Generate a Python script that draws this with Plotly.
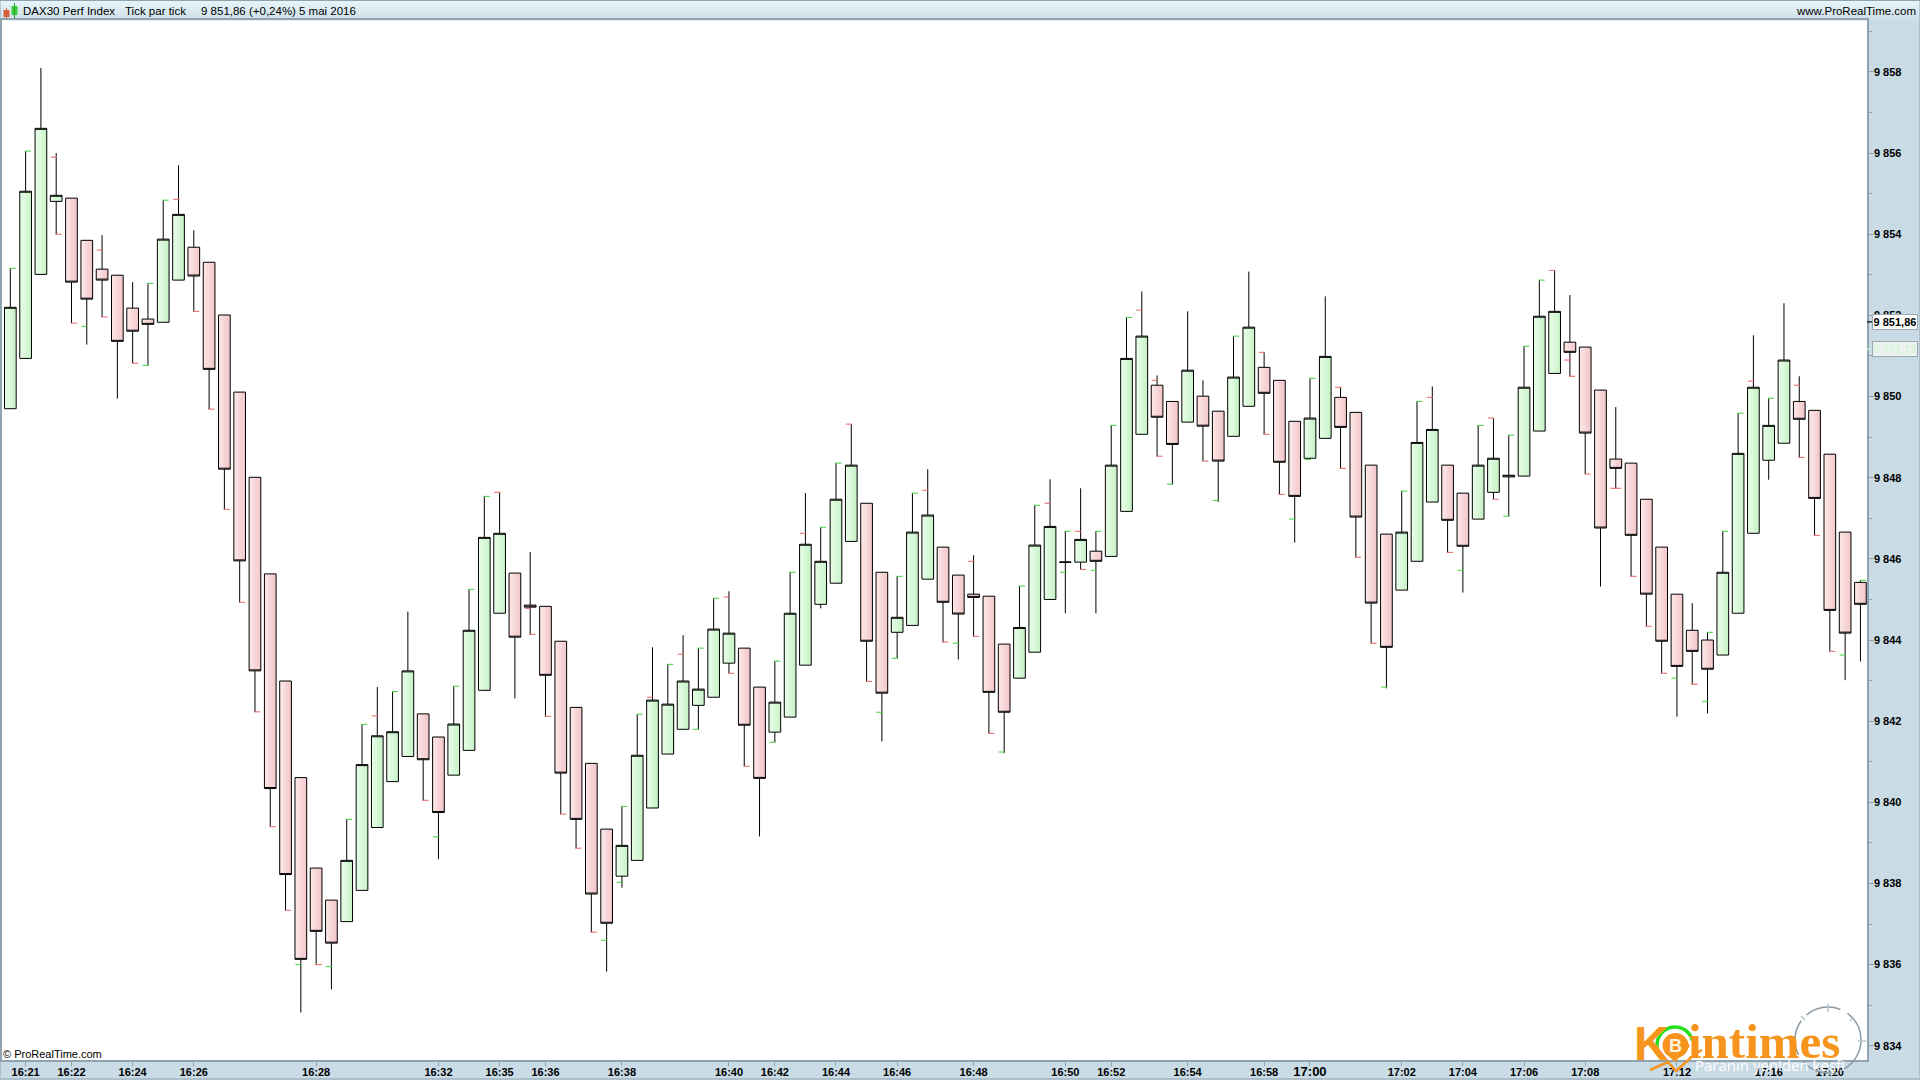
import math
import plotly.graph_objects as go

# ---------------- data ----------------
opens = [9849.70,9850.94,9853.01,9854.81,9854.89,9853.85,9853.14,9852.99,9852.18,9851.91,
         9851.83,9852.87,9853.68,9853.31,9852.01,9850.11,9848.01,9845.63,9842.99,9840.61,
         9838.38,9837.59,9837.06,9837.83,9839.38,9840.51,9841.13,9842.18,9841.61,9840.67,
         9841.28,9842.76,9844.66,9845.65,9844.86,9844.83,9843.97,9842.34,9840.96,9839.34,
         9838.18,9838.57,9839.86,9841.19,9841.80,9842.39,9842.59,9843.43,9843.80,9842.84,
         9841.73,9842.10,9843.38,9844.88,9845.40,9846.43,9847.37,9845.67,9844.19,9844.36,
         9845.50,9846.29,9845.60,9845.13,9845.08,9843.90,9843.06,9843.70,9845.00,9845.92,
         9845.92,9846.19,9846.06,9847.17,9849.07,9850.28,9849.88,9849.37,9850.01,9849.64,
         9849.02,9849.76,9850.72,9850.40,9849.39,9848.48,9848.97,9849.98,9849.61,9848.31,
         9846.61,9845.23,9845.94,9847.40,9848.31,9847.62,9846.98,9847.64,9848.02,9848.04,
         9849.15,9850.57,9851.34,9851.22,9850.16,9848.46,9848.36,9847.47,9846.29,9845.13,
         9844.24,9844.00,9843.63,9844.66,9846.63,9848.43,9848.85,9849.88,9849.66,9848.58,
         9846.66,9845.42]
closes = [9852.20,9855.06,9856.61,9854.96,9852.82,9852.40,9852.87,9851.36,9851.61,9851.78,
          9853.88,9854.49,9852.97,9850.67,9848.21,9845.95,9843.24,9840.34,9838.22,9836.13,
          9836.82,9836.53,9838.57,9840.93,9841.64,9841.74,9843.24,9841.05,9839.75,9841.93,
          9844.24,9846.53,9846.63,9844.07,9844.81,9843.13,9840.72,9839.58,9837.74,9837.02,
          9838.94,9841.16,9842.52,9842.42,9842.99,9842.79,9844.27,9844.17,9841.90,9840.59,
          9842.47,9844.66,9846.36,9845.94,9847.47,9848.31,9843.97,9842.69,9844.56,9846.66,
          9847.08,9844.93,9844.64,9845.05,9842.71,9842.22,9844.31,9846.34,9846.80,9845.92,
          9846.48,9845.94,9848.31,9850.94,9851.49,9849.49,9848.82,9850.65,9849.27,9848.41,
          9850.48,9851.71,9850.08,9848.38,9847.54,9849.47,9850.99,9849.24,9847.03,9844.91,
          9843.82,9846.66,9848.87,9849.19,9846.95,9846.31,9848.31,9848.48,9848.06,9850.23,
          9851.98,9852.10,9851.09,9849.10,9846.76,9848.23,9846.58,9845.13,9843.97,9843.35,
          9843.72,9843.28,9845.67,9848.60,9850.23,9849.29,9850.90,9849.44,9847.49,9844.73,
          9844.17,9844.88]
highs = [9853.16,9856.05,9858.10,9856.00,9854.89,9853.85,9853.98,9852.99,9852.82,9852.79,
         9854.84,9855.70,9854.10,9853.31,9852.01,9850.11,9848.01,9845.63,9842.99,9840.61,
         9838.38,9837.59,9839.58,9841.92,9842.84,9842.73,9844.70,9842.18,9841.61,9842.86,
         9845.25,9847.54,9847.64,9845.65,9846.17,9844.83,9843.97,9842.34,9840.96,9839.34,
         9839.90,9842.17,9843.82,9843.40,9844.12,9843.80,9845.03,9845.20,9843.80,9842.84,
         9843.48,9845.67,9847.62,9846.78,9848.36,9849.32,9847.37,9845.67,9845.57,9847.62,
         9848.21,9846.29,9845.60,9846.09,9845.08,9843.90,9845.33,9847.32,9847.96,9846.68,
         9847.74,9846.68,9849.29,9851.95,9852.59,9850.52,9849.88,9852.10,9850.40,9849.64,
         9851.49,9853.08,9851.09,9850.40,9849.39,9850.45,9852.47,9850.23,9849.61,9848.31,
         9846.61,9847.67,9849.88,9850.25,9848.31,9847.62,9849.29,9849.47,9849.05,9851.24,
         9852.87,9853.11,9852.50,9851.22,9850.16,9849.74,9848.36,9847.47,9846.29,9845.13,
         9844.91,9844.19,9846.68,9849.59,9851.51,9849.96,9852.30,9850.50,9849.66,9848.58,
         9846.66,9845.47]
lows = [9849.70,9850.94,9853.01,9854.00,9851.81,9851.28,9851.96,9849.95,9850.82,9850.77,
        9851.83,9852.87,9852.10,9849.69,9847.22,9844.93,9842.23,9839.40,9837.34,9834.82,
        9836.00,9835.39,9837.06,9837.83,9839.38,9840.51,9841.13,9840.05,9838.60,9840.67,
        9841.28,9842.76,9844.66,9842.56,9844.14,9842.12,9839.71,9838.87,9836.80,9835.83,
        9837.90,9838.57,9839.86,9841.19,9841.80,9841.80,9842.59,9843.18,9840.89,9839.16,
        9841.48,9842.10,9843.38,9844.78,9845.40,9846.43,9842.98,9841.50,9843.55,9844.36,
        9845.50,9843.95,9843.52,9844.09,9841.70,9841.21,9843.06,9843.70,9845.00,9844.66,
        9845.74,9844.66,9846.06,9847.17,9849.07,9848.53,9847.84,9849.37,9848.41,9847.40,
        9849.02,9849.76,9849.07,9847.59,9846.40,9848.45,9848.97,9848.23,9846.04,9843.92,
        9842.81,9845.23,9845.94,9847.40,9846.16,9845.17,9846.98,9847.47,9847.05,9848.04,
        9849.15,9850.57,9850.50,9848.09,9845.32,9847.74,9845.57,9844.34,9843.18,9842.11,
        9842.91,9842.19,9843.63,9844.66,9846.63,9847.95,9848.85,9848.50,9846.58,9843.72,
        9843.01,9843.47]

green_right_bars = [0,1,9,10,22,23,25,29,30,31,40,41,43,45,46,50,51,53,54,58,59,66,67,69,71,72,73,80,85,91,92,96,98,99,100,111,112,113,115,121]
green_right_vals = [9853.16,9856.05,9852.79,9854.84,9839.58,9841.92,9842.73,9842.86,9845.25,9847.54,9839.90,9842.17,9843.40,9843.80,9845.03,9843.48,9845.67,9846.78,9848.36,9845.57,9847.62,9845.33,9847.32,9846.68,9846.68,9849.29,9851.95,9851.49,9850.45,9847.67,9849.88,9849.29,9849.05,9851.24,9852.87,9844.19,9846.68,9849.59,9849.96,9845.47]
green_left_bars = [5,9,19,21,28,39,40,45,50,57,58,62,65,69,71,76,79,84,85,90,95,98,109,111,120]
green_left_vals = [9851.73,9850.77,9836.00,9835.95,9839.15,9836.60,9838.03,9841.80,9841.48,9842.22,9843.55,9843.92,9841.24,9845.67,9845.72,9847.84,9847.44,9846.98,9848.45,9842.84,9845.72,9847.05,9843.06,9842.49,9843.63]
red_right_bars = [3,4,6,8,12,13,14,15,16,17,18,20,27,34,35,36,37,38,47,48,56,61,63,64,70,75,78,82,83,87,88,89,94,97,102,103,105,106,107,108,110,117,118,119]
red_right_vals = [9854.00,9851.81,9851.96,9850.82,9852.10,9849.69,9847.22,9844.93,9842.23,9839.40,9837.34,9836.00,9840.05,9844.14,9842.12,9839.71,9838.87,9836.80,9843.18,9840.89,9842.98,9843.95,9844.09,9841.70,9845.74,9848.53,9848.41,9849.07,9847.59,9848.23,9846.04,9843.92,9846.16,9847.47,9850.50,9848.09,9847.74,9845.57,9844.34,9843.18,9842.91,9848.50,9846.58,9843.72]
red_left_bars = [3,6,11,24,32,34,42,44,47,52,55,60,63,68,70,74,75,82,87,93,97,101,102,105,114,117]
red_left_vals = [9855.90,9853.61,9854.86,9842.13,9847.64,9844.78,9842.59,9843.65,9845.06,9846.63,9849.32,9847.69,9845.94,9847.37,9846.68,9852.13,9850.40,9851.09,9850.23,9849.98,9849.47,9853.11,9850.90,9847.74,9850.38,9850.28]

time_ticks = [1,4,8,12,20,28,32,35,40,47,50,54,58,63,69,72,77,82,85,91,95,99,103,109,115,119]
time_labels = ["16:21","16:22","16:24","16:26","16:28","16:32","16:35","16:36","16:38","16:40",
               "16:42","16:44","16:46","16:48","16:50","16:52","16:54","16:58",
               "<span style='font-size:13px'>17:00</span>","17:02","17:04","17:06","17:08","17:12","17:16","17:20"]
price_ticks = [9834,9836,9838,9840,9842,9844,9846,9848,9850,9852,9854,9856,9858]
price_labels = ["9 834","9 836","9 838","9 840","9 842","9 844","9 846","9 848","9 850","9 852","9 854","9 856","9 858"]
last_price = 9851.84
second_price = 9851.17

W, H = 1920, 1080
def px(x): return x / W
def py(y): return 1 - y / H

bars = list(range(len(opens)))
is_up = [c >= o for o, c in zip(opens, closes)]
bottoms = [min(o, c) for o, c in zip(opens, closes)]
sizes = [abs(c - o) for o, c in zip(opens, closes)]

GREEN_GRAD = ["#e6fde6", "#e0fbe0", "#dbf9db", "#d5f7d5", "#cff5cf", "#c9f2c9"]
RED_GRAD = ["#fde6e6", "#fae0e1", "#f8dadc", "#f6d4d6", "#f4ced0", "#f2c8ca"]
BODY_W = 0.765
fig = go.Figure()
n = len(GREEN_GRAD)
for k in range(n):
    fig.add_trace(go.Bar(
        x=bars, y=sizes, base=bottoms,
        width=BODY_W / n + 0.01, offset=-BODY_W / 2 + k * BODY_W / n,
        marker=dict(color=[GREEN_GRAD[k] if u else RED_GRAD[k] for u in is_up], line=dict(width=0)),
        hoverinfo="skip", showlegend=False))

fig.add_trace(go.Candlestick(
    x=bars, open=opens, high=highs, low=lows, close=closes,
    whiskerwidth=0,
    increasing=dict(line=dict(color="#000000", width=1), fillcolor="rgba(0,0,0,0)"),
    decreasing=dict(line=dict(color="#000000", width=1), fillcolor="rgba(0,0,0,0)"),
    hoverinfo="skip", showlegend=False))

TICK_OFFSET = 0.15
for xs, ys, side, col in [
    (green_right_bars, green_right_vals, 1, "#3fd03f"),
    (green_left_bars, green_left_vals, -1, "#3fd03f"),
    (red_right_bars, red_right_vals, 1, "#e86464"),
    (red_left_bars, red_left_vals, -1, "#e86464"),
]:
    fig.add_trace(go.Scatter(
        x=[b + side * TICK_OFFSET for b in xs], y=ys, mode="markers",
        marker=dict(symbol="line-ew", size=4.5, line=dict(color=col, width=1)),
        hoverinfo="skip", showlegend=False))

AXIS = "#8fa3b1"
TICKFONT = dict(family="Liberation Sans", size=11, color="#000000", weight="bold")
shapes = []
# header band
hdr = ["#e6f4f9", "#e2f1f6", "#dfeef4", "#dbebf1", "#d7e8ee", "#d3e5eb", "#cfe1e8"]
for i, c in enumerate(hdr):
    shapes.append(dict(type="rect", xref="paper", yref="paper", x0=0, x1=1,
                       y0=py((i + 1) * 20 / len(hdr) + 0.5), y1=py(i * 20 / len(hdr)),
                       fillcolor=c, line=dict(width=0), layer="below"))
# outer frame
shapes.append(dict(type="rect", xref="paper", yref="paper", x0=0, x1=1, y0=py(1079), y1=py(0.5),
                   line=dict(color=AXIS, width=1), fillcolor="rgba(0,0,0,0)"))
# header icon
shapes += [
    dict(type="rect", xref="paper", yref="paper", x0=px(3.5), x1=px(9.5), y0=py(17), y1=py(10),
         fillcolor="#d9603b", line=dict(width=0)),
    dict(type="line", xref="paper", yref="paper", x0=px(6.5), x1=px(6.5), y0=py(19), y1=py(8),
         line=dict(color="#d9603b", width=1)),
    dict(type="rect", xref="paper", yref="paper", x0=px(11.5), x1=px(17.5), y0=py(15), y1=py(6),
         fillcolor="#3bd03b", line=dict(width=0)),
    dict(type="line", xref="paper", yref="paper", x0=px(14.5), x1=px(14.5), y0=py(18), y1=py(3),
         line=dict(color="#2a9a2a", width=1)),
]
# last-price ticks
shapes.append(dict(type="line", xref="paper", yref="y", x0=px(1867), x1=px(1873), y0=last_price, y1=last_price,
                   line=dict(color="#000000", width=1.2)))
shapes.append(dict(type="line", xref="paper", yref="y", x0=px(1867), x1=px(1873), y0=second_price, y1=second_price,
                   line=dict(color="#d5f5d5", width=1.2)))

# watermark: clock
cx, cy, r = 1828, 1040, 33
shapes.append(dict(type="circle", xref="paper", yref="paper", x0=px(cx - r), x1=px(cx + r), y0=py(cy + r), y1=py(cy - r),
                   line=dict(color="#8c9ca8", width=1.5, dash="36px 8px")))
for a, b, c, d in [(1828, 1004, 1828, 1012), (1801, 1016, 1805, 1020), (1854, 1017, 1850, 1021), (1858, 1041, 1866, 1041)]:
    shapes.append(dict(type="line", xref="paper", yref="paper", x0=px(a), y0=py(b), x1=px(c), y1=py(d),
                       line=dict(color="#b8c4cc", width=1.5)))

# watermark: coin, ring, arrow
def arc_path(xc, yc, rad, a0, a1, steps=30):
    pts = []
    for i in range(steps + 1):
        a = math.radians(a0 + (a1 - a0) * i / steps)
        pts.append(f"{px(xc + rad * math.cos(a)):.6f} {py(yc + rad * math.sin(a)):.6f}")
    return "M " + " L ".join(pts)

shapes.append(dict(type="path", xref="paper", yref="paper", path=arc_path(1675, 1045, 18, 140, 345),
                   line=dict(color="#22e01e", width=3.5)))
shapes.append(dict(type="circle", xref="paper", yref="paper", x0=px(1662.5), x1=px(1688.5), y0=py(1058), y1=py(1033),
                   fillcolor="#f7941d", line=dict(width=0)))
shapes.append(dict(type="path", xref="paper", yref="paper",
                   path=f"M {px(1665)} {py(1053)} L {px(1675)} {py(1062)} L {px(1690)} {py(1046)} L {px(1685)} {py(1040)} Z",
                   fillcolor="#f7941d", line=dict(width=0)))
shapes.append(dict(type="path", xref="paper", yref="paper",
                   path=f"M {px(1650)} {py(1070)} L {px(1668)} {py(1062)} L {px(1676)} {py(1071)} L {px(1695)} {py(1054)} L {px(1702)} {py(1050)}",
                   line=dict(color="#f7941d", width=2.5)))

def note(text, x, y, anchor="left", size=11.5, color="#000000", bold=False, family="Liberation Sans", **kw):
    f = dict(family=family, size=size, color=color)
    if bold:
        f["weight"] = "bold"
    return dict(text=text, xref="paper", yref="paper", x=px(x), y=py(y), xanchor=anchor, yanchor="middle",
                showarrow=False, font=f, **kw)

annotations = [
    note("DAX30 Perf Index", 21, 11),
    note("Tick par tick", 123, 11),
    note("9 851,86 (+0,24%)", 199, 11),
    note("5 mai 2016", 297, 11),
    note("www.ProRealTime.com", 1918, 11, anchor="right"),
    note("© ProRealTime.com", 0.5, 1054, size=11),
    note("K", 1632, 1043, size=48, color="#f7941d", bold=True, family="Liberation Sans"),
    note("intimes", 1686, 1041, size=49, color="#f7941d", bold=True, family="Liberation Sans Narrow"),
    note("B", 1675, 1046, anchor="center", size=18, color="#fff3e0", bold=True),
    note("Paranın yeniden keşfi", 1693, 1065, size=15, color="#ffffff", family="Open Sans"),
    dict(text="<b>9 851,86</b>", xref="paper", yref="y", x=px(1894.5), y=last_price, xanchor="center", yanchor="middle",
         showarrow=False, font=dict(family="Liberation Sans", size=11, color="#000000"),
         bgcolor="#ffffff", bordercolor="#9aa8b2", borderwidth=1, borderpad=1, width=42, height=12),
    dict(text="<b>9 851,19</b>", xref="paper", yref="y", x=px(1894.5), y=second_price, xanchor="center", yanchor="middle",
         showarrow=False, font=dict(family="Liberation Sans", size=11, color="#d5f5d5"),
         bgcolor="#eef2f2", bordercolor="#9aa8b2", borderwidth=1, borderpad=1, width=42, height=12),
]

fig.update_layout(
    width=W, height=H, margin=dict(l=0, r=0, t=0, b=0, pad=0),
    paper_bgcolor="#c9dbe5", plot_bgcolor="#ffffff",
    barmode="overlay", bargap=0, boxgap=0.235, boxgroupgap=0, showlegend=False,
    shapes=shapes, annotations=annotations,
    xaxis=dict(domain=[px(2), px(1867)], range=[-0.545, 121.43], type="linear",
               tickmode="array", tickvals=time_ticks, ticktext=time_labels,
               showgrid=False, zeroline=False, showline=True, linecolor=AXIS, linewidth=1.5, mirror=True,
               ticks="outside", ticklen=4, tickwidth=1, tickcolor=AXIS, tickfont=TICKFONT,
               ticklabelstandoff=-3,
               rangeslider=dict(visible=False), tickangle=0, automargin=False),
    yaxis=dict(domain=[py(1060), py(20)], range=[9833.65, 9859.28], side="right",
               tickmode="array", tickvals=price_ticks, ticktext=price_labels,
               showgrid=False, zeroline=False, showline=True, linecolor=AXIS, linewidth=1.5, mirror=True,
               ticks="outside", ticklen=5, tickwidth=1, tickcolor=AXIS, tickfont=TICKFONT,
               ticklabelstandoff=-2,
               minor=dict(dtick=1, ticks="outside", ticklen=3, tickwidth=1, tickcolor=AXIS, showgrid=False),
               automargin=False),
)

fig.write_html("out.html", config={"displayModeBar": False},
               post_script="document.body.style.margin='0';document.body.style.overflow='hidden';")
